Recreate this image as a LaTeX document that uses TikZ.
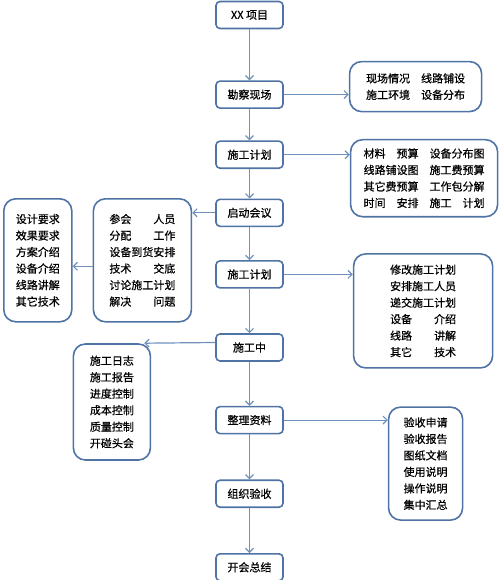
\documentclass[tikz,border=0pt]{standalone}
\usepackage{fontspec}
\newfontfamily\cjk{Noto Sans CJK SC}[FakeBold=0.6]
\usetikzlibrary{arrows.meta, positioning}
\definecolor{boxblue}{RGB}{79,115,165}
\definecolor{lineblue}{RGB}{112,145,188}

\begin{document}
\begin{tikzpicture}[every node/.style={font=\fontsize{11pt}{16.5pt}\selectfont\cjk},
  stepbox/.style={rectangle, rounded corners=4pt, draw=boxblue, line width=1.6pt, minimum width=67pt, minimum height=27pt, inner sep=2pt},
  notebox/.style={rectangle, rounded corners=12pt, draw=boxblue, line width=1.6pt, align=center, inner sep=2pt},
  link/.style={-{Straight Barb[length=4pt,width=8pt]}, draw=lineblue, line width=1.2pt}]
  \useasboundingbox (0,0) rectangle (500pt,-580pt);

  % Main flow
  \node (xx) [stepbox] at (249.5pt,-15pt) {XX 项目};
  \node (survey) [stepbox, below=51pt of xx] {勘察现场};
  \node (plan) [stepbox, below=31.5pt of survey] {施工计划};
  \node (kickoff) [stepbox, below=29.5pt of plan] {启动会议};
  \node (replan) [stepbox, below=33pt of kickoff] {施工计划};
  \node (build) [stepbox, below=44.5pt of replan] {施工中};
  \node (docs) [stepbox, below=44pt of build] {整理资料};
  \node (accept) [stepbox, below=45pt of docs] {组织验收};
  \node (summary) [stepbox, below=45pt of accept] {开会总结};

  % Right notes
  \node (surveyinfo) [notebox, minimum width=132pt, minimum height=50pt, right=65pt of survey, yshift=8pt]
    {现场情况　线路铺设\\施工环境　设备分布};
  \node (planinfo) [notebox, minimum width=147pt, minimum height=77pt, right=66pt of plan, yshift=-23.5pt]
    {材料　预算　设备分布图\\线路铺设图　施工费预算\\其它费预算　工作包分解\\时间　安排　施工　计划};
  \node (replaninfo) [notebox, minimum width=139pt, minimum height=114pt, right=69pt of replan, yshift=-36.5pt]
    {修改施工计划\\安排施工人员\\递交施工计划\\设备　　介绍\\线路　　讲解\\其它　　技术};
  \node (docsinfo) [notebox, minimum width=74pt, minimum height=113pt, right=104pt of docs, yshift=-43.5pt]
    {验收申请\\验收报告\\图纸文档\\使用说明\\操作说明\\集中汇总};

  % Left notes
  \node (meetinfo) [notebox, minimum width=98pt, minimum height=123pt, left=23pt of kickoff, yshift=-47.5pt]
    {参会　　人员\\分配　　工作\\设备到货安排\\技术　　交底\\讨论施工计划\\解决　　问题};
  \node (techinfo) [notebox, minimum width=68pt, minimum height=123pt, left=20pt of meetinfo]
    {设计要求\\效果要求\\方案介绍\\设备介绍\\线路讲解\\其它技术};
  \node (buildinfo) [notebox, minimum width=77pt, minimum height=116pt, left=64pt of build, yshift=-54.5pt]
    {施工日志\\施工报告\\进度控制\\成本控制\\质量控制\\开碰头会};

  % Main vertical
  \draw[link] (xx) -- (survey);
  \draw[link] (survey) -- (plan);
  \draw[link] (plan) -- (kickoff);
  \draw[link] (kickoff) -- (replan);
  \draw[link] (replan) -- (build);
  \draw[link] (build) -- (docs);
  \draw[link] (docs) -- (accept);
  \draw[link] (accept) -- (summary);

  % Out to the notes
  \draw[link] (survey.east) -- (survey.east -| surveyinfo.west);
  \draw[link] (plan.east) -- (plan.east -| planinfo.west);
  \draw[link] (kickoff.west) -- (kickoff.west -| meetinfo.east);
  \draw[link] ([yshift=-6pt]meetinfo.west) -- ([yshift=-6pt]meetinfo.west -| techinfo.east);
  \draw[link] (replan.east) -- (replan.east -| replaninfo.west);
  \draw[link] ([yshift=5pt]build.west) -- ([xshift=-7pt]buildinfo.north east);
  \draw[link] (docs.east) -- (docs.east -| docsinfo.west);
\end{tikzpicture}
\end{document}
